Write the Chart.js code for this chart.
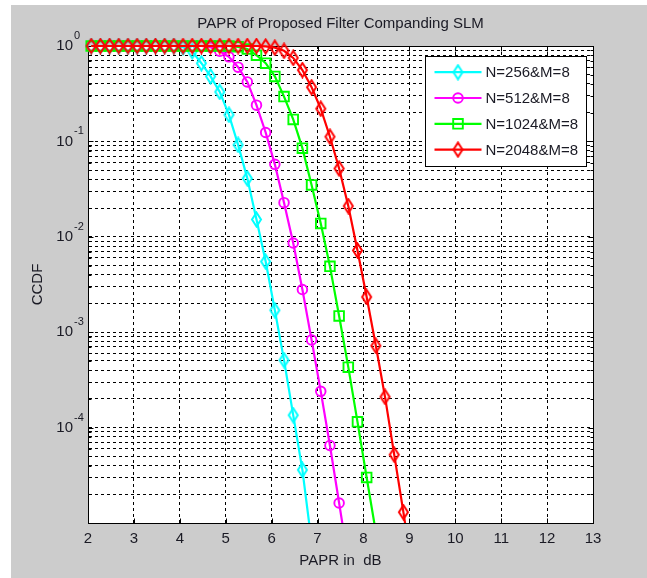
<!DOCTYPE html>
<html lang="en">
<head>
<meta charset="UTF-8">
<title>PAPR of Proposed Filter Companding SLM</title>
<script src="https://cdn.jsdelivr.net/npm/chart.js"></script>
<style>
  html, body { margin: 0; padding: 0; background: #fff; }
  #wrap { position: absolute; left: 11px; top: 5px; width: 636px; height: 573px; background: #cccccc; }
  canvas { display: block; }
</style>
</head>
<body>
<div id="wrap"><canvas id="ccdfChart" width="636" height="573"></canvas></div>
<script>
// PAPR values (dB) where the markers sit
const paprDb = [2.07, 2.27, 2.47, 2.67, 2.87, 3.07, 3.27, 3.47, 3.67, 3.87,
                4.07, 4.27, 4.47, 4.67, 4.87, 5.07, 5.27, 5.47, 5.67, 5.87,
                6.07, 6.27, 6.47, 6.67, 6.87, 7.07, 7.27, 7.47, 7.67, 7.87,
                8.07, 8.27, 8.47, 8.67, 8.87, 9.07];

// CCDF, one value per paprDb entry (series stop where the curve leaves the plot)
const ccdf256 = [1, 1, 1, 1, 1, 1, 1, 1, 1, 1,
                 0.97, 0.88, 0.66, 0.48, 0.33, 0.19, 0.092, 0.041, 0.0152, 0.0055,
                 0.0017, 5.1e-4, 1.35e-4, 3.6e-5, 6.3e-6];
const ccdf512 = [1, 1, 1, 1, 1, 1, 1, 1, 1, 1,
                 1, 1, 1, 0.97, 0.88, 0.77, 0.6, 0.42, 0.24, 0.124,
                 0.0575, 0.0228, 0.0086, 0.0028, 8.3e-4, 2.4e-4, 6.5e-5, 1.62e-5, 4e-6];
const ccdf1024 = [1, 1, 1, 1, 1, 1, 1, 1, 1, 1,
                  1, 1, 1, 1, 1, 1, 0.98, 0.93, 0.80, 0.66,
                  0.48, 0.295, 0.17, 0.085, 0.035, 0.0138, 0.0049, 0.00148, 4.3e-4, 1.15e-4,
                  3.0e-5, 8e-6];
const ccdf2048 = [1, 1, 1, 1, 1, 1, 1, 1, 1, 1,
                  1, 1, 1, 1, 1, 1, 1, 1, 1, 0.99,
                  0.96, 0.89, 0.75, 0.56, 0.37, 0.22, 0.112, 0.052, 0.021, 0.0072,
                  0.00234, 7.2e-4, 2.1e-4, 5.2e-5, 1.3e-5, 3e-6];

const seriesNames = ['N=256&M=8', 'N=512&M=8', 'N=1024&M=8', 'N=2048&M=8'];
const xTickMin = 2, xTickMax = 13;
const yDecades = [-5, -4, -3, -2, -1, 0];
const yLabelExponents = [0, -1, -2, -3, -4];

const FONT = '"Liberation Sans", Arial, Helvetica, sans-serif';
const TEXT = '#1a1a24';

// grid positions on the log axis: 1..9 of every decade
const yGridValues = [];
yDecades.forEach(e => {
    for (let m = 1; m <= 9; m++) {
        if (e === 0 && m > 1) break;
        yGridValues.push(m * Math.pow(10, e));
    }
});

// MATLAB-like tall diamond marker
function diamond(color) {
    const c = document.createElement('canvas');
    c.width = 13; c.height = 17;
    const g = c.getContext('2d');
    g.strokeStyle = color;
    g.lineWidth = 2;
    g.beginPath();
    g.moveTo(6.5, 1.5); g.lineTo(11, 8.5); g.lineTo(6.5, 15.5); g.lineTo(2, 8.5);
    g.closePath();
    g.stroke();
    return c;
}

function toPoints(values) {
    return values.map((v, i) => ({ x: paprDb[i], y: v }));
}

function makeSet(label, values, color, style, radius, order) {
    return {
        label: label,
        data: toPoints(values),
        borderColor: color,
        borderWidth: 2.2,
        pointStyle: style,
        pointRadius: radius,
        pointBorderWidth: 1.9,
        pointBorderColor: color,
        pointBackgroundColor: 'rgba(0,0,0,0)',
        tension: 0,
        order: order,
        clip: { left: 8, top: false, right: 0, bottom: 0 }
    };
}

const datasets = [
    makeSet(seriesNames[0], ccdf256, '#00ffff', diamond('#00ffff'), 5, 3),
    makeSet(seriesNames[1], ccdf512, '#ff00ff', 'circle', 4.8, 2),
    makeSet(seriesNames[2], ccdf1024, '#00ff00', 'rect', 6.8, 1),
    makeSet(seriesNames[3], ccdf2048, '#ff0000', diamond('#ff0000'), 5, 0)
];

// white axes background, box and inward ticks
const axesBox = {
    id: 'axesBox',
    beforeDraw(chart) {
        const a = chart.chartArea, ctx = chart.ctx;
        ctx.save();
        ctx.fillStyle = '#fff';
        ctx.fillRect(a.left, a.top, a.right - a.left, a.bottom - a.top);
        ctx.restore();
    },
    beforeDatasetsDraw(chart) {
        const a = chart.chartArea, ctx = chart.ctx;
        const L = Math.round(a.left) + 0.5, R = Math.round(a.right) + 0.5;
        const T = Math.round(a.top) + 0.5, B = Math.round(a.bottom) + 0.5;
        ctx.save();
        ctx.strokeStyle = '#000';
        ctx.lineWidth = 1;
        ctx.beginPath();
        chart.scales.x.ticks.forEach(t => {
            const x = Math.round(chart.scales.x.getPixelForValue(t.value)) + 0.5;
            ctx.moveTo(x, B); ctx.lineTo(x, B - 5);
            ctx.moveTo(x, T); ctx.lineTo(x, T + 5);
        });
        yGridValues.forEach(v => {
            const y = Math.round(chart.scales.y.getPixelForValue(v)) + 0.5;
            const major = Math.abs(Math.log10(v) - Math.round(Math.log10(v))) < 1e-9;
            const len = major ? 5 : 3;
            ctx.moveTo(L, y); ctx.lineTo(L + len, y);
            ctx.moveTo(R, y); ctx.lineTo(R - len, y);
        });
        ctx.stroke();
        ctx.strokeRect(L, T, R - L, B - T);
        ctx.restore();
    }
};

// 10^n labels with raised exponents
const powerLabels = {
    id: 'powerLabels',
    afterDraw(chart) {
        const s = chart.scales.y, a = chart.chartArea, ctx = chart.ctx;
        ctx.save();
        ctx.fillStyle = TEXT;
        ctx.textBaseline = 'middle';
        yLabelExponents.forEach(e => {
            const y = s.getPixelForValue(Math.pow(10, e));
            ctx.font = '15px ' + FONT;
            ctx.textAlign = 'right';
            ctx.fillText('10', a.left - 15, y);
            ctx.font = '11px ' + FONT;
            ctx.textAlign = 'left';
            ctx.fillText(e === 0 ? '0' : '-' + Math.abs(e), a.left - 14, y - 10);
        });
        ctx.restore();
    }
};

// boxed legend in the upper right of the axes
const boxLegend = {
    id: 'boxLegend',
    afterDraw(chart) {
        const a = chart.chartArea, ctx = chart.ctx;
        const w = 161, h = 110;
        const left = Math.round(a.right) - 7 - w + 0.5, top = Math.round(a.top) + 10 + 0.5;
        ctx.save();
        ctx.fillStyle = '#fff';
        ctx.fillRect(left, top, w, h);
        ctx.strokeStyle = '#000';
        ctx.lineWidth = 1;
        ctx.strokeRect(left, top, w, h);
        chart.data.datasets.forEach((ds, i) => {
            const y = top + 15.7 + i * 25.8;
            ctx.strokeStyle = ds.borderColor;
            ctx.lineWidth = ds.borderWidth;
            ctx.beginPath();
            ctx.moveTo(left + 9, y); ctx.lineTo(left + 56, y);
            ctx.stroke();
            ctx.fillStyle = 'rgba(0,0,0,0)';
            ctx.lineWidth = ds.pointBorderWidth;
            Chart.helpers.drawPoint(ctx, {
                pointStyle: ds.pointStyle, radius: ds.pointRadius,
                borderWidth: ds.pointBorderWidth, rotation: 0
            }, left + 32.5, y);
            ctx.fillStyle = TEXT;
            ctx.font = '15px ' + FONT;
            ctx.textAlign = 'left';
            ctx.textBaseline = 'middle';
            ctx.fillText(ds.label, left + 60, y + 1);
        });
        ctx.restore();
    }
};

new Chart(document.getElementById('ccdfChart'), {
    type: 'line',
    data: { datasets: datasets },
    options: {
        responsive: false,
        animation: false,
        events: [],
        layout: { padding: { top: 0, right: 54, bottom: 0, left: 0 } },
        plugins: {
            legend: { display: false },
            tooltip: { enabled: false },
            title: {
                display: true,
                text: 'PAPR of Proposed Filter Companding SLM',
                fullSize: false,
                color: TEXT,
                font: { family: FONT, size: 15, weight: 'normal' },
                padding: { top: 9.5, bottom: 13.5 }
            }
        },
        scales: {
            x: {
                type: 'linear',
                min: xTickMin,
                max: xTickMax,
                afterFit: s => { s.height = 55; },
                ticks: { stepSize: 1, padding: 7, color: TEXT, font: { family: FONT, size: 15 } },
                grid: { color: '#000', lineWidth: 1, drawTicks: false },
                border: { display: true, color: '#000', width: 1, dash: [3, 3] },
                title: {
                    display: true, text: 'PAPR in  dB', color: TEXT,
                    font: { family: FONT, size: 15 }, padding: { top: 0, bottom: 8 }
                }
            },
            y: {
                type: 'logarithmic',
                min: 1e-5,
                max: 1,
                afterFit: s => { s.width = 77; },
                afterBuildTicks: s => { s.ticks = yGridValues.map(v => ({ value: v })); },
                ticks: { display: false },
                grid: { color: '#000', lineWidth: 1, drawTicks: false },
                border: { display: true, color: '#000', width: 1, dash: [3, 3] },
                title: {
                    display: true, text: 'CCDF', color: TEXT,
                    font: { family: FONT, size: 15 }, padding: { top: 18, bottom: 0 }
                }
            }
        }
    },
    plugins: [axesBox, powerLabels, boxLegend]
});
</script>
</body>
</html>
